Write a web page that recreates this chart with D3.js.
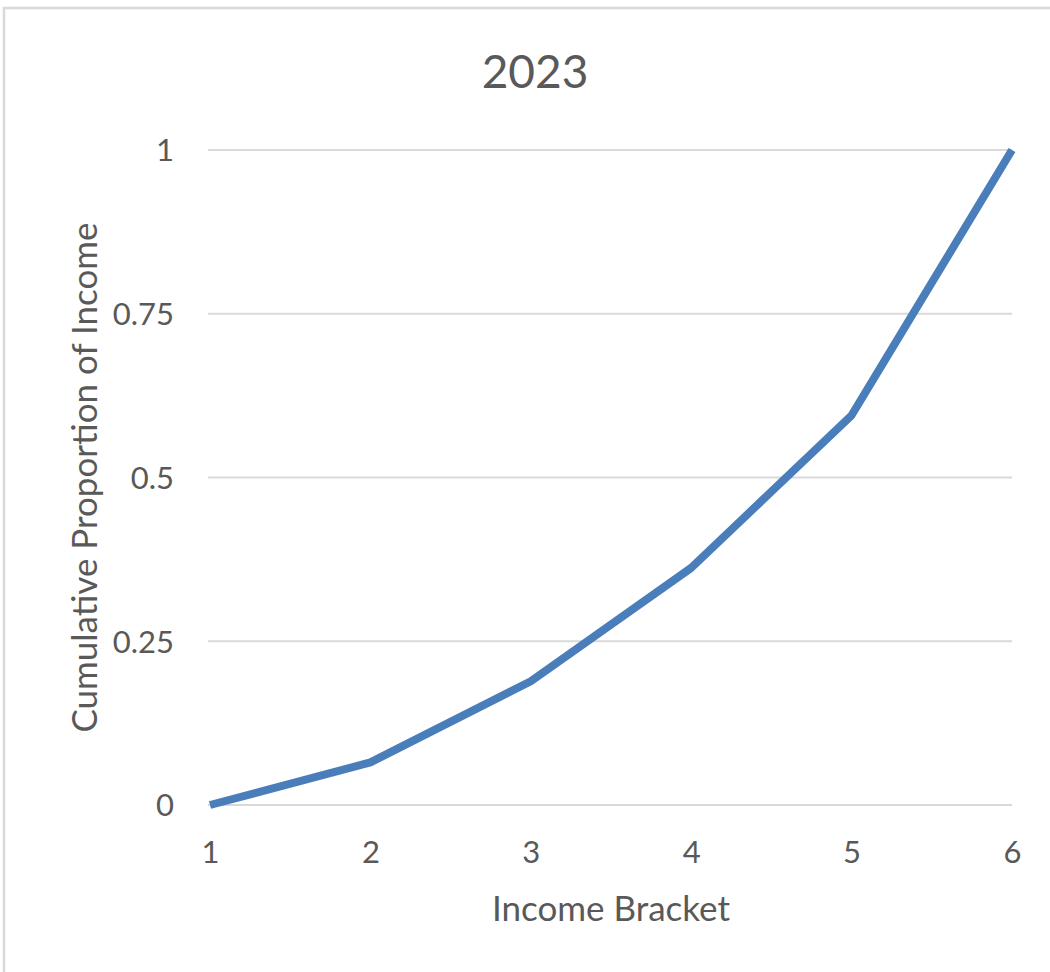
<!DOCTYPE html>
<html>
<head>
<meta charset="utf-8">
<script src="https://cdn.jsdelivr.net/npm/d3@7"></script>
<style>
  html, body { margin: 0; padding: 0; background: #ffffff; }
  svg { display: block; }
  text { font-family: Lato, "Open Sans", sans-serif; fill: #595959; }
</style>
</head>
<body>
<svg id="chart" width="1050" height="972"></svg>
<script>
// Income brackets and the cumulative share of income up to each one
const brackets = [1, 2, 3, 4, 5, 6];
const cumulativeIncome = [0, 0.065, 0.189, 0.362, 0.595, 1];
const yTicks = [0, 0.25, 0.5, 0.75, 1];
const yTickLabels = ["0", "0.25", "0.5", "0.75", "1"];
const chartTitle = "2023";
const xTitle = "Income Bracket";
const yTitle = "Cumulative Proportion of Income";

const svg = d3.select("#chart");
const W = 1050, H = 972;
const plot = { left: 210, right: 1012, top: 150, bottom: 805 };

// chart frame
svg.append("rect")
  .attr("x", 4).attr("y", 8)
  .attr("width", W + 20).attr("height", H + 20)
  .attr("fill", "#ffffff")
  .attr("stroke", "#d9d9d9")
  .attr("stroke-width", 2.5);

const x = d3.scaleLinear().domain([1, 6]).range([plot.left, plot.right]);
const y = d3.scaleLinear().domain([0, 1]).range([plot.bottom, plot.top]);

// horizontal gridlines
svg.append("g")
  .selectAll("line")
  .data(yTicks)
  .join("line")
  .attr("x1", plot.left - 2)
  .attr("x2", plot.right)
  .attr("y1", d => y(d))
  .attr("y2", d => y(d))
  .attr("stroke", "#d9d9d9")
  .attr("stroke-width", 2);

// y axis tick labels
const yAxis = d3.axisLeft(y)
  .tickValues(yTicks)
  .tickFormat((d, i) => yTickLabels[i])
  .tickSize(0)
  .tickPadding(0);
const gy = svg.append("g")
  .attr("transform", `translate(${plot.left - 36},0)`)
  .call(yAxis);
gy.select(".domain").remove();
gy.selectAll("text")
  .attr("font-family", "Lato, 'Open Sans', sans-serif")
  .attr("font-size", 31)
  .attr("fill", "#595959")
  .attr("dy", "0.35em");

// x axis tick labels
const xAxis = d3.axisBottom(x)
  .tickValues(brackets)
  .tickFormat(d3.format("d"))
  .tickSize(0)
  .tickPadding(0);
const gx = svg.append("g")
  .attr("transform", `translate(0,${plot.bottom + 36})`)
  .call(xAxis);
gx.select(".domain").remove();
gx.selectAll("text")
  .attr("font-family", "Lato, 'Open Sans', sans-serif")
  .attr("font-size", 31)
  .attr("fill", "#595959")
  .attr("dy", "0.71em");

// data line
const line = d3.line()
  .x((d, i) => x(brackets[i]))
  .y(d => y(d));
svg.append("path")
  .datum(cumulativeIncome)
  .attr("d", line)
  .attr("fill", "none")
  .attr("stroke", "#4a7ebb")
  .attr("stroke-width", 8)
  .attr("stroke-linejoin", "round")
  .attr("stroke-linecap", "butt");

// titles
svg.append("text")
  .attr("x", 535).attr("y", 88)
  .attr("text-anchor", "middle")
  .attr("font-size", 46)
  .text(chartTitle);

svg.append("text")
  .attr("x", (plot.left + plot.right) / 2).attr("y", 921)
  .attr("text-anchor", "middle")
  .attr("font-size", 35)
  .text(xTitle);

svg.append("text")
  .attr("transform", `translate(97,${(plot.top + plot.bottom) / 2}) rotate(-90)`)
  .attr("text-anchor", "middle")
  .attr("font-size", 35)
  .text(yTitle);
</script>
</body>
</html>
